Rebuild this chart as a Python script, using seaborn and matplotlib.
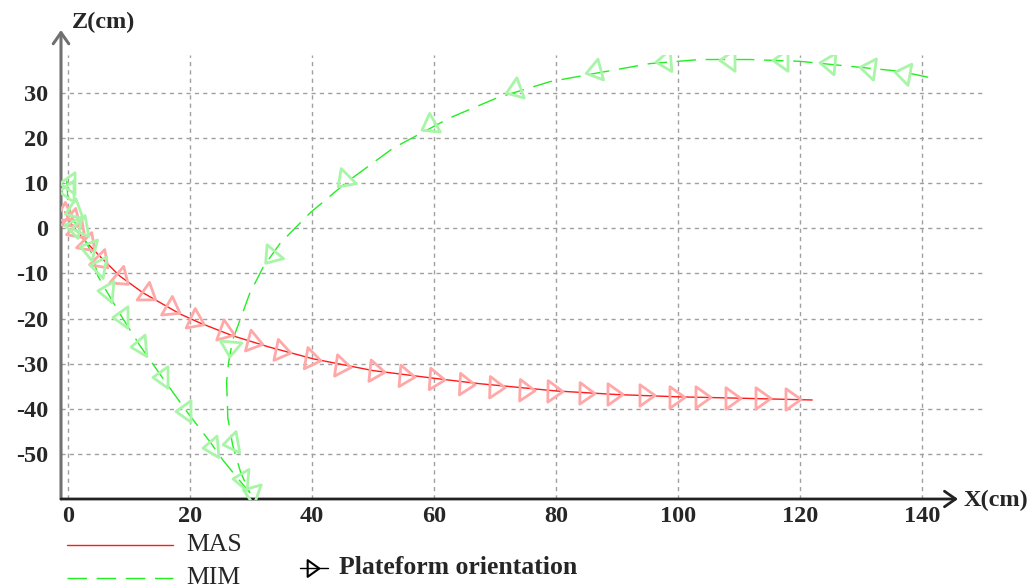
import numpy as np
import matplotlib
matplotlib.use("Agg")
import matplotlib.pyplot as plt
import seaborn as sns
from matplotlib.markers import MarkerStyle
from matplotlib.path import Path
from matplotlib.transforms import Affine2D
from matplotlib.lines import Line2D

# ---------------- data ----------------
mas_x = [-0.5, 0.5, 2.5, 5.2, 8.5, 12.3, 18.4, 21.7, 27.0, 33.0, 40.2, 50.0, 60.0,
         67.5, 80.0, 90.0, 100.0, 110.0, 122.0]
mas_z = [3.6, 1.0, -2.4, -6.2, -10.6, -14.3, -19.0, -21.0, -23.8, -26.3, -28.9, -31.5,
         -33.2, -34.4, -36.0, -36.8, -37.3, -37.6, -38.0]

mim_x = [-0.2, 0.0, 0.8, 2.5, 4.1, 4.9, 6.4, 9.0, 11.8, 15.6, 19.5, 23.3, 25.4, 27.5, 29.8,
         28.3, 27.0, 26.2, 26.0, 26.3, 27.0, 28.2, 29.8, 32.0, 34.8, 39.7, 45.7, 53.3,
         62.6, 70.3, 79.0, 86.7, 95.4, 103.6, 111.8, 120.0, 128.2, 136.4, 141.3]
mim_z = [10.5, 5.7, 2.0, -1.8, -6.2, -10.6, -14.1, -20.0, -26.0, -33.3, -40.6, -47.3, -51.3,
         -54.8, -58.5, -54.0, -48.0, -42.0, -34.0, -29.9, -24.7, -20.3, -14.4, -8.6, -3.3,
         3.4, 10.2, 17.7, 24.4, 28.8, 32.4, 34.3, 36.4, 37.3, 37.3, 36.9, 35.8, 34.7, 33.3]

# platform orientation markers (position + heading in degrees)
mas_mx = [-0.3, 1.0, 1.8, 3.5, 5.5, 8.8, 13.2, 17.2, 21.1, 26.0, 30.7, 35.2, 40.2, 45.0,
          50.6, 55.6, 60.5, 65.4, 70.3, 75.2, 79.8, 85.1, 89.7, 94.9, 99.8, 104.1, 109.0,
          113.9, 118.9]
mas_mz = [3.0, 1.5, -0.8, -3.8, -7.5, -11.3, -14.8, -17.9, -20.5, -23.0, -25.2, -27.1,
          -28.9, -30.4, -31.5, -32.6, -33.3, -34.4, -35.2, -35.7, -36.0, -36.4, -36.7,
          -37.0, -37.3, -37.4, -37.5, -37.6, -37.7]
mas_ma = [-30, -40, -45, -45, -45, -40, -35, -30, -25, -20, -15, -12, -10, -8, -6, -5,
          -4, -3, -2, -2, -1, -1, 0, 0, 0, 0, 0, 0, 0]

mim_mx = [-0.2, -0.3, 0.6, 0.6, 1.8, 3.1, 4.7, 6.0, 8.5, 11.5, 15.1, 18.9, 23.3, 28.2,
          29.8, 26.6, 26.6, 33.1, 45.1, 59.0, 73.0, 86.0, 97.5, 108.0, 116.7, 124.4,
          131.0, 136.7]
mim_mz = [10.1, 8.2, 3.8, 0.5, 0.3, -4.3, -8.3, -13.8, -19.7, -26.0, -33.0, -40.4, -48.3,
          -55.4, -58.3, -47.6, -26.7, -6.4, 10.4, 22.5, 30.5, 34.7, 36.9, 37.3, 37.3,
          36.6, 35.5, 34.4]
mim_ma = [180, 180, 200, 170, 190, 165, 170, 175, 180, 185, 180, 180, 185, 175, 160,
          190, 265, 230, 225, 210, 200, 195, 185, 180, 180, 175, 172, 170]

x_ticks = [0, 20, 40, 60, 80, 100, 120, 140]
z_ticks = [-50, -40, -30, -20, -10, 0, 10, 20, 30]

# ---------------- style ----------------
sns.set_style("white")
plt.rcParams['font.family'] = ['Liberation Serif', 'DejaVu Serif']

W, H = 1034, 588
fig = plt.figure(figsize=(W / 100, H / 100), dpi=100)
L, R, B, T = 61, 985, 499, 55
ax = fig.add_axes([L / W, 1 - B / H, (R - L) / W, (B - T) / H])
ax.set_facecolor('white')

ax.set_xlim(-1.15, 150.33)
ax.set_ylim(-59.9, 38.3)

ax.set_xticks(x_ticks)
ax.set_yticks(z_ticks)
ax.set_xticklabels([str(v) for v in x_ticks], fontsize=17.5, fontweight='bold')
ax.set_yticklabels([str(v) for v in z_ticks], fontsize=17.5, fontweight='bold')
ax.tick_params(axis='both', length=0)
ax.tick_params(axis='y', pad=9)
ax.tick_params(axis='x', pad=5)
ax.grid(True, color='#a0a0a0', linestyle=(0, (3, 3)), linewidth=1.0)
for s in ax.spines.values():
    s.set_visible(False)

# lines
sns.lineplot(x=mas_x, y=mas_z, sort=False, estimator=None, ax=ax, color='#ff1a1a',
             linewidth=1.0, zorder=3)
sns.lineplot(x=mim_x, y=mim_z, sort=False, estimator=None, ax=ax, color='#22ee22',
             linewidth=1.0, linestyle=(0, (14, 7)), zorder=3)

tri = Path([(0.7, 0.0), (-0.7, 1.0), (-0.7, -1.0), (0.7, 0.0)],
           [Path.MOVETO, Path.LINETO, Path.LINETO, Path.CLOSEPOLY])


def tri_marker(angle):
    return MarkerStyle(tri, transform=Affine2D().rotate_deg(angle))


for x, z, a in zip(mas_mx, mas_mz, mas_ma):
    ax.plot([x], [z], linestyle='none', marker=tri_marker(a), markersize=15.5,
            markerfacecolor='none', markeredgecolor='#ffa8a8', markeredgewidth=2.0, zorder=4)
for x, z, a in zip(mim_mx, mim_mz, mim_ma):
    ax.plot([x], [z], linestyle='none', marker=tri_marker(a), markersize=15.5,
            markerfacecolor='none', markeredgecolor='#a8f5a8', markeredgewidth=2.0, zorder=4)

# axis arrows
ax.annotate('', xy=(0, (B - 30) / (B - T)), xytext=(0, 0), xycoords='axes fraction',
            arrowprops=dict(arrowstyle='->,head_length=0.5,head_width=0.35', color='#707070',
                            lw=2.2, shrinkA=0, shrinkB=0, mutation_scale=16),
            annotation_clip=False)
ax.annotate('', xy=((958 - L) / (R - L), 0), xytext=(0, 0), xycoords='axes fraction',
            arrowprops=dict(arrowstyle='->,head_length=0.5,head_width=0.35', color='#222222',
                            lw=2.0, shrinkA=0, shrinkB=0, mutation_scale=16),
            annotation_clip=False)

# axis labels
fig.text(72 / W, 1 - 22 / H, 'Z(cm)', fontsize=17.5, fontweight='bold', va='center', ha='left')
fig.text(964 / W, 1 - 500 / H, 'X(cm)', fontsize=17.5, fontweight='bold', va='center', ha='left')

# legend (below the axes)
fig.add_artist(Line2D([67 / W, 173 / W], [1 - 545 / H, 1 - 545 / H], color='#ff1a1a', lw=1.0))
fig.text(186 / W, 1 - 545 / H, 'MAS', fontsize=18.5, va='center', ha='left')
fig.add_artist(Line2D([67 / W, 173 / W], [1 - 578 / H, 1 - 578 / H], color='#22ee22', lw=1.0,
                      linestyle=(0, (14, 7))))
fig.text(186 / W, 1 - 578 / H, 'MIM', fontsize=18.5, va='center', ha='left')
fig.add_artist(Line2D([300 / W, 328 / W], [1 - 568 / H, 1 - 568 / H], color='black', lw=1.0))
fig.add_artist(Line2D([313 / W], [1 - 568 / H], linestyle='none', marker=tri_marker(0),
                      markersize=12, markerfacecolor='none', markeredgecolor='black',
                      markeredgewidth=1.5))
fig.text(339 / W, 1 - 568 / H, 'Plateform orientation', fontsize=18.5, fontweight='bold',
         va='center', ha='left')

fig.savefig('out.png', dpi=100, facecolor='white')
